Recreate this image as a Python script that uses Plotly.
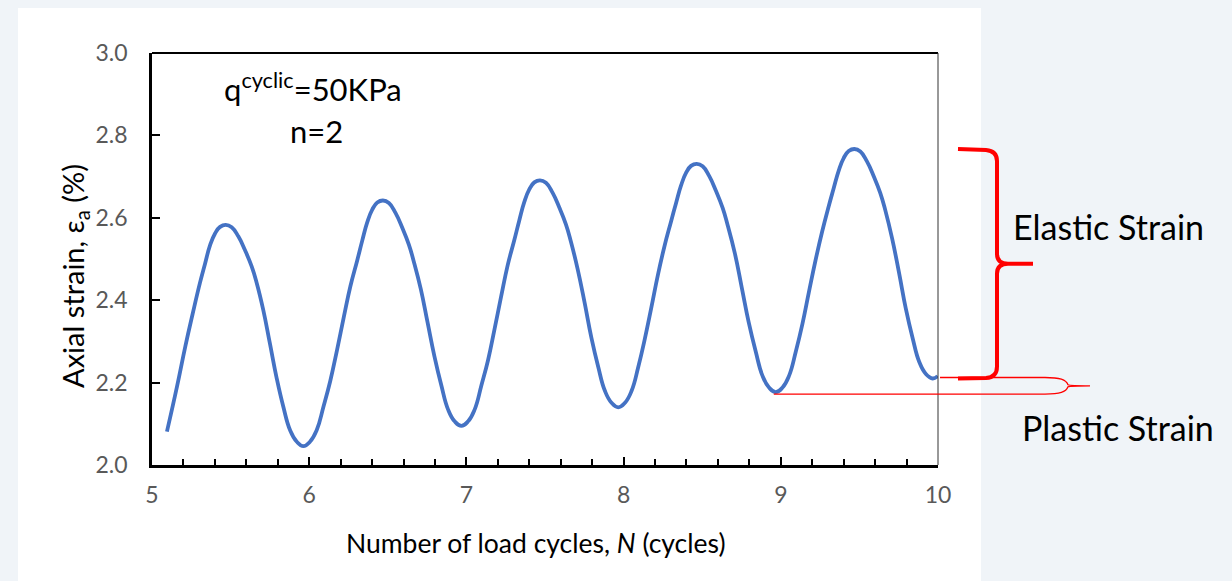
import plotly.graph_objects as go

# ---- data (N, axial strain %) ----
cycles = [5.095, 5.159, 5.212, 5.258, 5.305, 5.337, 5.369, 5.401, 5.433, 5.469,
          5.507, 5.549, 5.592, 5.634, 5.666, 5.708, 5.750, 5.793, 5.835, 5.878, 5.920, 5.963,
          6.006, 6.048, 6.091, 6.134, 6.177, 6.220, 6.262, 6.305, 6.337, 6.369, 6.401, 6.433, 6.469,
          6.507, 6.549, 6.592, 6.634, 6.666, 6.710, 6.753, 6.797, 6.840, 6.883, 6.925, 6.968,
          7.011, 7.053, 7.096, 7.138, 7.179, 7.221, 7.262, 7.304, 7.336, 7.368, 7.400, 7.432, 7.468,
          7.506, 7.548, 7.591, 7.633, 7.665, 7.708, 7.752, 7.795, 7.838, 7.881, 7.923, 7.966,
          8.009, 8.051, 8.094, 8.135, 8.177, 8.218, 8.260, 8.301, 8.333, 8.365, 8.397, 8.429, 8.465,
          8.503, 8.545, 8.588, 8.630, 8.662, 8.707, 8.751, 8.796, 8.840, 8.883, 8.925, 8.968,
          9.011, 9.053, 9.096, 9.138, 9.179, 9.221, 9.262, 9.304, 9.336, 9.368, 9.400, 9.432, 9.468,
          9.506, 9.548, 9.591, 9.633, 9.665, 9.708, 9.752, 9.795, 9.838, 9.881, 9.923, 9.966, 9.998]
strain = [2.081, 2.190, 2.288, 2.366, 2.442, 2.488, 2.533, 2.562, 2.578, 2.583,
          2.577, 2.555, 2.521, 2.482, 2.442, 2.376, 2.295, 2.211, 2.142, 2.085, 2.057, 2.046,
          2.057, 2.085, 2.142, 2.204, 2.279, 2.359, 2.434, 2.496, 2.544, 2.589, 2.620, 2.637, 2.642,
          2.636, 2.612, 2.576, 2.535, 2.493, 2.427, 2.346, 2.263, 2.194, 2.135, 2.106, 2.095,
          2.106, 2.135, 2.194, 2.255, 2.330, 2.409, 2.484, 2.545, 2.593, 2.638, 2.669, 2.686, 2.691,
          2.685, 2.661, 2.625, 2.584, 2.542, 2.475, 2.394, 2.309, 2.239, 2.180, 2.151, 2.140,
          2.151, 2.180, 2.239, 2.306, 2.383, 2.461, 2.531, 2.590, 2.635, 2.678, 2.709, 2.726, 2.731,
          2.725, 2.701, 2.665, 2.624, 2.582, 2.515, 2.432, 2.346, 2.276, 2.217, 2.188, 2.177,
          2.188, 2.217, 2.276, 2.343, 2.420, 2.497, 2.565, 2.627, 2.671, 2.714, 2.745, 2.762, 2.767,
          2.761, 2.737, 2.701, 2.660, 2.618, 2.550, 2.467, 2.380, 2.309, 2.250, 2.221, 2.210, 2.216]
x_ticks = [5, 6, 7, 8, 9, 10]
y_ticks = [2.0, 2.2, 2.4, 2.6, 2.8, 3.0]
x_range = [5, 10]
y_range = [2.0, 3.0]

W, H = 1232, 581
L, R, T, B = 152, 294, 53, 116
PW, PH = W - L - R, H - T - B
FONT = "Lato"


def xp(px):
    return (px - L) / PW


def yp(py):
    return (H - B - py) / PH


def py_of(v):
    return (H - B) - (v - y_range[0]) / (y_range[1] - y_range[0]) * PH


def px_of(n):
    return L + (n - x_range[0]) / (x_range[1] - x_range[0]) * PW


def pt(px, py):
    return f"{xp(px):.5f},{yp(py):.5f}"


fig = go.Figure()
fig.add_trace(go.Scatter(
    x=cycles, y=strain, mode="lines",
    line=dict(color="#4472C4", width=3.8, shape="spline", smoothing=1.3),
    showlegend=False, hoverinfo="skip"))

# braces anchored to data values
top = py_of(max(strain))
bot = py_of(strain[-2])
mid = (top + bot) / 2
el_path = (f"M {pt(958, top)} L {pt(986, top+1)} Q {pt(997, top+2)} {pt(997, top+12)} "
           f"L {pt(997, mid-10)} Q {pt(997, mid)} {pt(1008, mid)} L {pt(1033, mid)} "
           f"M {pt(1008, mid)} Q {pt(997, mid)} {pt(997, mid+10)} "
           f"L {pt(997, bot-12)} Q {pt(997, bot-1)} {pt(986, bot-0.5)} L {pt(958, bot)}")

last_cycle = [v for n, v in zip(cycles, strain) if 8.7 < n < 9.3]
trough = min(last_cycle)
lo = py_of(trough) + 2
up = bot - 1
pm = (up + lo) / 2
n_tr = cycles[strain.index(trough)]
pl_path = (f"M {pt(940, up)} L {pt(1045, up)} C {pt(1060, up)} {pt(1066, up+2)} {pt(1068, pm-1)} "
           f"Q {pt(1070, pm)} {pt(1090, pm)} "
           f"M {pt(px_of(n_tr) - 2, lo)} L {pt(1045, lo)} C {pt(1060, lo)} {pt(1066, lo-2)} {pt(1068, pm+1)} "
           f"Q {pt(1070, pm)} {pt(1090, pm)}")

shapes = [
    dict(type="rect", xref="paper", yref="paper", x0=xp(18), x1=xp(981), y0=yp(600), y1=yp(8),
         fillcolor="white", line=dict(width=0), layer="below"),
    dict(type="line", xref="paper", yref="paper", x0=0, x1=1, y0=1, y1=1,
         line=dict(color="black", width=1.8)),
    dict(type="line", xref="paper", yref="paper", x0=1, x1=1, y0=0, y1=1,
         line=dict(color="#333333", width=1)),
    dict(type="path", xref="paper", yref="paper", path=el_path,
         line=dict(color="#FF0000", width=4)),
    dict(type="path", xref="paper", yref="paper", path=pl_path,
         line=dict(color="#FF0000", width=1.3)),
]

annotations = [
    dict(text="q<sup>cyclic</sup>=50KPa", x=xp(313), y=yp(88), xref="paper", yref="paper",
         showarrow=False, font=dict(family=FONT, size=31, color="black"), xanchor="center", yanchor="middle"),
    dict(text="n=2", x=xp(316), y=yp(131), xref="paper", yref="paper",
         showarrow=False, font=dict(family=FONT, size=31, color="black"), xanchor="center", yanchor="middle"),
    dict(text="Elastic Strain", x=xp(1011), y=yp(226), xref="paper", yref="paper",
         showarrow=False, font=dict(family=FONT, size=34, color="black"), xanchor="left", yanchor="middle"),
    dict(text="Plastic Strain", x=xp(1020), y=yp(427), xref="paper", yref="paper",
         showarrow=False, font=dict(family=FONT, size=34, color="black"), xanchor="left", yanchor="middle"),
    dict(text="Number of load cycles, <i>N</i> (cycles)", x=xp(536), y=yp(543), xref="paper", yref="paper",
         showarrow=False, font=dict(family=FONT, size=26.5, color="black"), xanchor="center", yanchor="middle"),
    dict(text="Axial strain, ε<sub>a</sub> (%)", x=xp(74), y=yp(276), xref="paper", yref="paper",
         showarrow=False, textangle=-90, font=dict(family=FONT, size=29, color="black"),
         xanchor="center", yanchor="middle"),
]

fig.update_layout(
    width=W, height=H,
    margin=dict(l=L, r=R, t=T, b=B, pad=0),
    paper_bgcolor="#F0F4F8", plot_bgcolor="white",
    shapes=shapes, annotations=annotations,
    font=dict(family=FONT),
    xaxis=dict(range=x_range, tickvals=x_ticks, ticktext=[str(v) for v in x_ticks],
               showgrid=False, zeroline=False, showline=True, linecolor="black", linewidth=2.5,
               ticks="inside", ticklen=8, tickwidth=2, tickcolor="black",
               minor=dict(dtick=0.2, ticks="inside", ticklen=6, tickwidth=2, tickcolor="black", showgrid=False),
               tickfont=dict(family=FONT, size=23, color="#595959"), ticklabelstandoff=8),
    yaxis=dict(range=y_range, tickvals=y_ticks, ticktext=[f"{v:.1f}" for v in y_ticks],
               showgrid=False, zeroline=False, showline=True, linecolor="black", linewidth=2.5,
               ticks="inside", ticklen=8, tickwidth=2, tickcolor="black",
               tickfont=dict(family=FONT, size=23, color="#595959"), ticklabelstandoff=17),
)

fig.write_html(
    "out.html",
    config={"displayModeBar": False},
    post_script="document.body.style.margin='0';document.body.style.background='#F0F4F8';",
)
